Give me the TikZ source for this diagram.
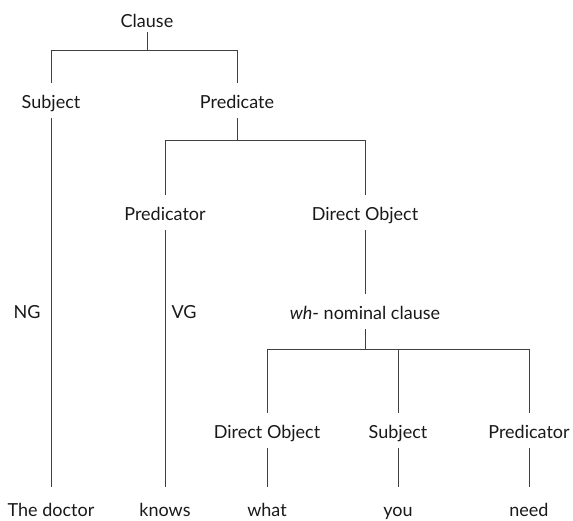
\documentclass[tikz,border=0pt]{standalone}
\usepackage{fontspec}
\setmainfont{Lato}
\begin{document}
\begin{tikzpicture}[x=1pt,y=-1pt,
  lab/.style={font=\fontsize{18}{20}\selectfont, text=black!90, inner sep=0pt, anchor=base,
    text height=25pt, text depth=10pt},
  leaf/.style={lab, text height=29pt},
  side/.style={font=\fontsize{18}{20}\selectfont, text=black!90, inner sep=0pt, anchor=base},
  edge/.style={draw=black!75, line width=1pt}]
\useasboundingbox (0,0) rectangle (573,520);
% nodes
\node[lab, text depth=5pt] (clause) at (147,27) {Clause};
\node[lab] (subj) at (51,108) {Subject};
\node[lab] (pred) at (237,108) {Predicate};
\node[lab] (predr) at (165,220) {Predicator};
\node[lab] (dobj) at (365,220) {Direct Object};
\node[lab] (wh) at (365,319) {\textit{wh}- nominal clause};
\node[lab] (dobj2) at (267,438) {Direct Object};
\node[lab] (subj2) at (398,438) {Subject};
\node[lab] (pred2) at (529,438) {Predicator};
\node[side] (ng) at (27,318) {NG};
\node[side] (vg) at (184,318) {VG};
\node[leaf] (doctor) at (51,516) {The doctor};
\node[leaf] (knows) at (165,516) {knows};
\node[leaf] (what) at (267,516) {what};
\node[leaf] (you) at (398,516) {you};
\node[leaf] (need) at (529,516) {need};
% connectors
\draw[edge] (clause.south) -- ++(0,18) coordinate (c1);
\draw[edge] (subj.north) |- (c1) -| (pred.north);
\draw[edge] (pred.south) -- ++(0,22) coordinate (c2);
\draw[edge] (predr.north) |- (c2) -| (dobj.north);
\draw[edge] (subj.south) -- (doctor.north);
\draw[edge] (predr.south) -- (knows.north);
\draw[edge] (dobj.south) -- (wh.north);
\draw[edge] (wh.south) -- ++(0,20) coordinate (c3);
\draw[edge] (dobj2.north) |- (c3) -| (pred2.north);
\draw[edge] (subj2.north) -- (subj2.north |- c3);
\draw[edge] (dobj2.south) -- (what.north);
\draw[edge] (subj2.south) -- (you.north);
\draw[edge] (pred2.south) -- (need.north);
\end{tikzpicture}
\end{document}
